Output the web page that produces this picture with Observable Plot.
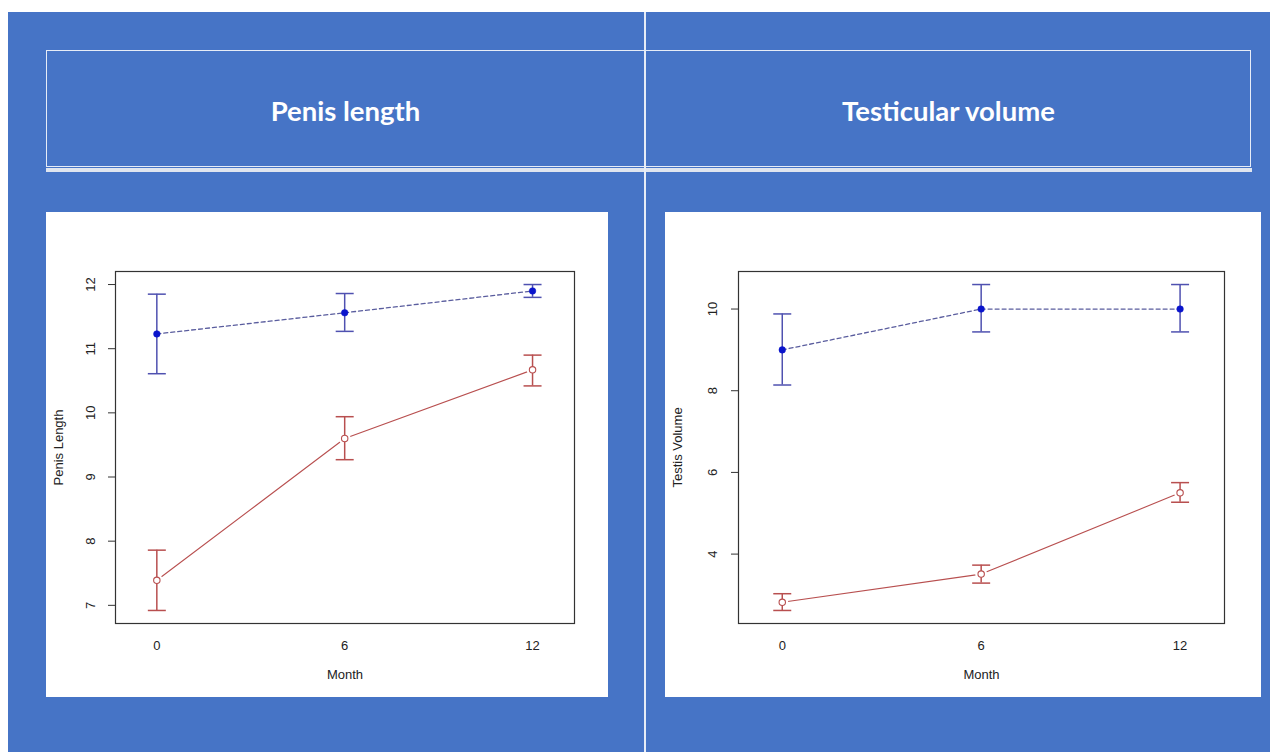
<!DOCTYPE html>
<html>
<head>
<meta charset="utf-8">
<script src="https://cdn.jsdelivr.net/npm/d3@7"></script>
<script src="https://cdn.jsdelivr.net/npm/@observablehq/plot@0.6"></script>
<style>
  html, body { margin: 0; padding: 0; background: #ffffff; width: 1270px; height: 752px; overflow: hidden; }
  #slide { position: absolute; left: 8px; top: 12px; width: 1262px; height: 740px; background: #4674C6; }
  .vline { position: absolute; left: 644px; top: 12px; width: 1.5px; height: 740px; background: #e6ecf7; }
  #header { position: absolute; left: 46px; top: 50px; width: 1205px; height: 117px; border: 1.5px solid #e6ecf7; box-sizing: border-box; }
  #header .band { position: absolute; left: -1.5px; right: -1.5px; top: 117px; height: 4px; background: #dfe5ef; }
  .title { position: absolute; top: 52px; height: 117px; line-height: 117px; text-align: center; color: #ffffff;
           font-family: Lato, "Open Sans", sans-serif; font-weight: 700; font-size: 27.5px; }
  .panel { position: absolute; top: 212px; height: 485px; background: #ffffff; }
  .panel svg { display: block; }
</style>
</head>
<body>
<div id="slide"></div>
<div class="vline"></div>
<div id="header"><div class="band"></div></div>
<div class="vline" style="top:50px;height:122px;"></div>
<div class="title" style="left:46px;width:599px;">Penis length</div>
<div class="title" style="left:645px;width:607px;">Testicular volume</div>
<div class="panel" id="left" style="left:46px;width:562px;"></div>
<div class="panel" id="right" style="left:665px;width:596px;"></div>
<script>
// ---- Data ----
const months = [0, 6, 12];
const xTicks = [0, 6, 12];

// Penis length
const penisTopMean  = [11.23, 11.56, 11.90];
const penisTopLow   = [10.61, 11.27, 11.80];
const penisTopHigh  = [11.85, 11.86, 12.00];
const penisBotMean  = [7.39, 9.60, 10.67];
const penisBotLow   = [6.92, 9.27, 10.42];
const penisBotHigh  = [7.86, 9.94, 10.90];
const penisYTicks   = [7, 8, 9, 10, 11, 12];

// Testicular volume
const testisTopMean = [9.00, 10.00, 10.00];
const testisTopLow  = [8.14, 9.44, 9.44];
const testisTopHigh = [9.88, 10.60, 10.60];
const testisBotMean = [2.82, 3.51, 5.50];
const testisBotLow  = [2.62, 3.29, 5.27];
const testisBotHigh = [3.03, 3.73, 5.75];
const testisYTicks  = [4, 6, 8, 10];

// ---- Helpers ----
const rows = (mean, lo, hi) => months.map((m, i) => ({month: m, mean: mean[i], lo: lo[i], hi: hi[i]}));

// horizontal cap symbol for error bars
const capSymbol = { draw(ctx) { ctx.moveTo(-9, 0); ctx.lineTo(9, 0); } };

const BLUE_BAR = "#4f51b0";
const BLUE_PT = "#0a14cc";
const BLUE_LINE = "#5a5d9e";
const RED = "#b84f4f";
const FONT = "Liberation Sans, Arial, sans-serif";

function makePlot({width, mL, mR, top, bot, yTicks, yLabel, labelDx, tickDx}) {
  const all = [...top.lo, ...top.hi, ...bot.lo, ...bot.hi];
  const lo = d3.min(all), hi = d3.max(all), pad = (hi - lo) * 0.04;
  const T = rows(top.mean, top.lo, top.hi);
  const B = rows(bot.mean, bot.lo, bot.hi);
  return Plot.plot({
    width, height: 485,
    marginLeft: mL, marginRight: mR, marginTop: 59, marginBottom: 74,
    style: {fontFamily: FONT, fontSize: "13px", color: "#222", background: "transparent"},
    x: {domain: [-1.32, 13.34], axis: null},
    y: {domain: [lo - pad, hi + pad], axis: null},
    marks: [
      // red series line with gaps near points
      Plot.line(B, {x: "month", y: "mean", stroke: RED, strokeWidth: 1.1}),
      Plot.dot(B, {x: "month", y: "mean", r: 6, fill: "white"}),
      // blue dashed line
      Plot.line(T, {x: "month", y: "mean", stroke: BLUE_LINE, strokeWidth: 1.3, strokeDasharray: "4,3"}),
      // error bars
      Plot.ruleX(T, {x: "month", y1: "lo", y2: "hi", stroke: BLUE_BAR, strokeWidth: 1.5}),
      Plot.dot(T, {x: "month", y: "lo", symbol: capSymbol, stroke: BLUE_BAR, strokeWidth: 1.5}),
      Plot.dot(T, {x: "month", y: "hi", symbol: capSymbol, stroke: BLUE_BAR, strokeWidth: 1.5}),
      Plot.ruleX(B, {x: "month", y1: "lo", y2: "hi", stroke: RED, strokeWidth: 1.5}),
      Plot.dot(B, {x: "month", y: "lo", symbol: capSymbol, stroke: RED, strokeWidth: 1.5}),
      Plot.dot(B, {x: "month", y: "hi", symbol: capSymbol, stroke: RED, strokeWidth: 1.5}),
      // points
      Plot.dot(T, {x: "month", y: "mean", r: 3.3, fill: BLUE_PT, stroke: BLUE_PT, strokeWidth: 0.5}),
      Plot.dot(B, {x: "month", y: "mean", r: 3.2, fill: "white", stroke: RED, strokeWidth: 1.1}),
      // frame
      Plot.frame({stroke: "#333", strokeWidth: 1.2}),
      // y axis ticks and rotated labels
      Plot.axisY({ticks: yTicks, tickSize: 7, tickFormat: () => "", label: null, stroke: "#333"}),
      Plot.text(yTicks, {y: d => d, text: d => String(d), frameAnchor: "left", rotate: -90, dx: tickDx,
                         textAnchor: "middle", lineAnchor: "middle", fill: "#222", fontSize: 13}),
      Plot.text([yLabel], {text: d => d, frameAnchor: "left", rotate: -90, dx: labelDx,
                           textAnchor: "middle", lineAnchor: "middle", fill: "#222", fontSize: 13}),
      // x labels
      Plot.text(xTicks, {x: d => d, text: d => String(d), frameAnchor: "bottom", dy: 22,
                         lineAnchor: "middle", fill: "#222", fontSize: 13}),
      Plot.text(["Month"], {text: d => d, frameAnchor: "bottom", dy: 51,
                            lineAnchor: "middle", fill: "#222", fontSize: 13})
    ]
  });
}

document.getElementById("left").append(makePlot({
  width: 562, mL: 69, mR: 34,
  top: {mean: penisTopMean, lo: penisTopLow, hi: penisTopHigh},
  bot: {mean: penisBotMean, lo: penisBotLow, hi: penisBotHigh},
  yTicks: penisYTicks, yLabel: "Penis Length", labelDx: -57, tickDx: -25
}));
document.getElementById("right").append(makePlot({
  width: 596, mL: 73, mR: 37,
  top: {mean: testisTopMean, lo: testisTopLow, hi: testisTopHigh},
  bot: {mean: testisBotMean, lo: testisBotLow, hi: testisBotHigh},
  yTicks: testisYTicks, yLabel: "Testis Volume", labelDx: -61, tickDx: -26
}));
</script>
</body>
</html>
